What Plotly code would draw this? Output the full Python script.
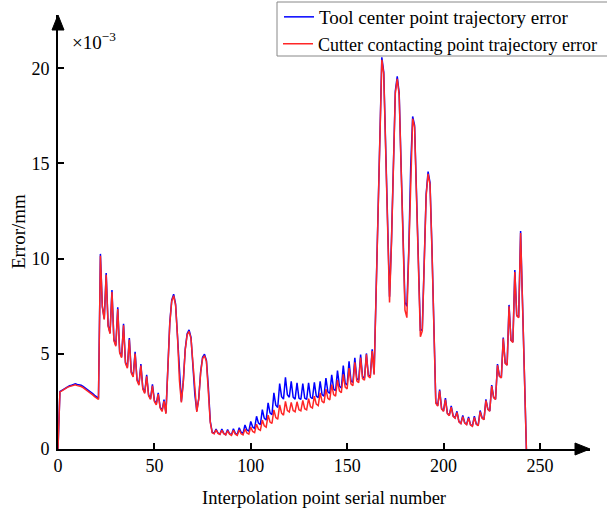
import plotly.graph_objects as go

# Interpolation point serial number
idx = list(range(244))

# Cutter contacting point trajectory error (x1e-3 mm)
cutter_err = [
    0.00, 3.00, 3.05, 3.10, 3.18, 3.25, 3.28, 3.30, 3.35, 3.37,
    3.33, 3.32, 3.28, 3.22, 3.15, 3.08, 3.00, 2.92, 2.84, 2.75,
    2.66, 2.60, 10.15, 7.45, 6.80, 9.15, 6.45, 6.05, 8.25, 5.70,
    5.40, 7.35, 5.05, 4.80, 6.50, 4.50, 4.25, 5.75, 4.00, 3.78,
    5.02, 3.60, 3.35, 4.38, 3.15, 2.92, 3.82, 2.80, 2.60, 3.32,
    2.50, 2.32, 2.88, 2.15, 1.97, 2.52, 1.85, 4.30, 6.60, 7.75,
    8.05, 7.55, 5.90, 3.60, 2.45, 3.50, 5.20, 6.00, 6.18, 5.80,
    4.40, 2.80, 1.95, 2.60, 4.00, 4.75, 4.90, 4.60, 3.20, 1.40,
    0.85, 0.80, 1.00, 0.82, 0.76, 0.98, 0.80, 0.74, 0.96, 0.78,
    0.72, 0.98, 0.78, 0.72, 1.00, 0.80, 0.74, 1.05, 0.84, 0.78,
    1.15, 0.92, 0.86, 1.30, 1.04, 0.98, 1.52, 1.22, 1.15, 1.78,
    1.42, 1.34, 2.05, 1.65, 1.56, 2.32, 1.88, 1.78, 2.50, 2.02,
    1.95, 2.45, 2.02, 1.96, 2.48, 2.06, 2.00, 2.55, 2.12, 2.06,
    2.65, 2.22, 2.15, 2.78, 2.36, 2.28, 2.95, 2.50, 2.42, 3.15,
    2.66, 2.58, 3.38, 2.86, 2.78, 3.62, 3.05, 2.96, 3.92, 3.25,
    3.15, 4.25, 3.42, 3.32, 4.55, 3.58, 3.48, 4.80, 3.70, 3.62,
    4.98, 3.82, 3.74, 5.15, 3.90, 8.00, 12.50, 17.50, 20.45, 19.70,
    15.80, 11.00, 7.70, 10.80, 15.60, 18.70, 19.45, 18.60, 14.80, 10.40,
    7.30, 6.90, 10.30, 14.80, 17.35, 16.90, 13.20, 9.00, 5.90, 6.20,
    9.80, 13.30, 14.45, 13.90, 10.50, 6.40, 2.40, 2.25, 3.05, 2.10,
    1.98, 2.60, 1.86, 1.75, 2.20, 1.72, 1.62, 1.92, 1.42, 1.33,
    1.70, 1.36, 1.28, 1.62, 1.26, 1.19, 1.66, 1.30, 1.22, 1.96,
    1.62, 1.54, 2.55, 2.08, 1.98, 3.30, 2.70, 2.60, 4.40, 3.82,
    3.73, 5.80, 4.50, 4.40, 7.50, 5.70, 5.60, 9.30, 7.00, 6.90,
    11.35, 7.60, 3.80, 0.00,
]

# Tool center point trajectory error (x1e-3 mm)
tool_err = [
    0.00, 3.02, 3.08, 3.14, 3.22, 3.29, 3.32, 3.35, 3.40, 3.42,
    3.39, 3.38, 3.35, 3.29, 3.22, 3.15, 3.07, 2.99, 2.91, 2.82,
    2.73, 2.66, 10.25, 7.50, 6.85, 9.25, 6.50, 6.10, 8.35, 5.75,
    5.45, 7.45, 5.10, 4.85, 6.58, 4.55, 4.30, 5.83, 4.05, 3.83,
    5.10, 3.65, 3.40, 4.46, 3.20, 2.97, 3.90, 2.85, 2.65, 3.40,
    2.55, 2.37, 2.95, 2.20, 2.02, 2.60, 1.90, 4.35, 6.65, 7.82,
    8.13, 7.62, 5.95, 3.65, 2.50, 3.55, 5.25, 6.06, 6.26, 5.86,
    4.45, 2.85, 2.00, 2.65, 4.05, 4.82, 4.98, 4.66, 3.25, 1.45,
    0.88, 0.82, 1.05, 0.84, 0.78, 1.05, 0.82, 0.76, 1.02, 0.80,
    0.75, 1.06, 0.82, 0.76, 1.12, 0.88, 0.82, 1.26, 1.00, 0.94,
    1.45, 1.15, 1.08, 1.72, 1.36, 1.28, 2.07, 1.62, 1.52, 2.42,
    1.90, 1.80, 2.95, 2.30, 2.18, 3.44, 2.75, 2.62, 3.77, 2.85,
    2.72, 3.56, 2.72, 2.62, 3.47, 2.68, 2.60, 3.44, 2.68, 2.60,
    3.47, 2.72, 2.64, 3.50, 2.78, 2.70, 3.56, 2.86, 2.78, 3.73,
    3.00, 2.92, 3.90, 3.15, 3.06, 4.12, 3.30, 3.20, 4.38, 3.45,
    3.36, 4.61, 3.58, 3.50, 4.79, 3.70, 3.62, 4.96, 3.80, 3.72,
    5.02, 3.88, 3.80, 5.24, 3.95, 8.05, 12.55, 17.60, 20.58, 19.80,
    15.90, 11.10, 8.00, 10.90, 15.70, 18.80, 19.58, 18.70, 14.90, 10.60,
    7.70, 7.50, 10.50, 14.90, 17.47, 17.00, 13.30, 9.20, 6.20, 6.30,
    9.90, 13.40, 14.57, 14.00, 10.60, 6.50, 2.45, 2.28, 3.12, 2.13,
    2.00, 2.67, 1.88, 1.77, 2.26, 1.74, 1.64, 1.98, 1.44, 1.35,
    1.76, 1.38, 1.30, 1.68, 1.28, 1.21, 1.72, 1.32, 1.24, 2.02,
    1.64, 1.56, 2.61, 2.10, 2.00, 3.36, 2.72, 2.62, 4.46, 3.84,
    3.75, 5.86, 4.52, 4.42, 7.57, 5.72, 5.62, 9.40, 7.02, 6.92,
    11.45, 7.65, 3.82, 0.00,
]

x_ticks = [0, 50, 100, 150, 200, 250]
y_ticks = [0, 5, 10, 15, 20]

FONT = "Liberation Serif, Times New Roman, serif"
TICK_FS = 18
TITLE_FS = 18.5

fig = go.Figure()
fig.add_trace(go.Scatter(
    x=idx, y=tool_err, mode="lines", name="Tool center point trajectory error",
    line=dict(color="#0000FF", width=1.5), legend="legend",
))
fig.add_trace(go.Scatter(
    x=idx, y=cutter_err, mode="lines", name="Cutter contacting point trajectory error",
    line=dict(color="#FF2626", width=1.5), legend="legend2",
))

axis_common = dict(
    showline=True, linecolor="black", linewidth=1.6,
    ticks="inside", ticklen=6, tickwidth=1.6, tickcolor="black",
    showgrid=False, zeroline=False,
    tickfont=dict(family=FONT, size=TICK_FS, color="black"),
)

fig.update_xaxes(range=[0, 276], tickvals=x_ticks, ticklabelstandoff=0, **axis_common)
fig.update_yaxes(range=[0, 22.8], tickvals=y_ticks, ticklabelstandoff=3, **axis_common)

dx = 15 / 532
dy = 6 / 434
dy2 = 15 / 434
dx2 = 6 / 532
fig.add_shape(type="path", xref="paper", yref="paper",
              path=f"M 1,0 L {1-dx},{dy} L {1-dx},{-dy} Z",
              fillcolor="black", line=dict(color="black", width=1))
fig.add_shape(type="path", xref="paper", yref="paper",
              path=f"M 0,1 L {-dx2},{1-dy2} L {dx2},{1-dy2} Z",
              fillcolor="black", line=dict(color="black", width=1))

# legend frame (one box around both legend entries)
fig.add_shape(type="rect", xref="paper", yref="paper",
              x0=(277 - 58) / 532, x1=(612 - 58) / 532,
              y0=(449 - 56) / 434, y1=(449 - 2) / 434,
              fillcolor="white", line=dict(color="#888888", width=1), layer="above")

fig.add_annotation(x=0.022, y=0.94, xref="paper", yref="paper",
                   text="×10<sup>−3</sup>", showarrow=False,
                   xanchor="left", yanchor="middle",
                   font=dict(family=FONT, size=19, color="black"))
fig.add_annotation(x=0.5, y=-0.113, xref="paper", yref="paper",
                   text="Interpolation point serial number", showarrow=False,
                   xanchor="center", yanchor="middle",
                   font=dict(family=FONT, size=TITLE_FS, color="black"))
fig.add_annotation(x=-0.075, y=0.5, xref="paper", yref="paper",
                   text="Error/mm", showarrow=False, textangle=-90,
                   xanchor="center", yanchor="middle",
                   font=dict(family=FONT, size=19, color="black"))

leg_common = dict(
    xanchor="left", yanchor="middle",
    bgcolor="rgba(0,0,0,0)", borderwidth=0,
)

fig.update_layout(
    width=607, height=510,
    margin=dict(l=58, r=17, t=15, b=61, autoexpand=False),
    paper_bgcolor="white", plot_bgcolor="white",
    showlegend=True,
    legend=dict(x=(279 - 58) / 532, y=(449 - 17) / 434,
                font=dict(family=FONT, size=19, color="black"), **leg_common),
    legend2=dict(x=(278 - 58) / 532, y=(449 - 44) / 434,
                 font=dict(family=FONT, size=18, color="black"), **leg_common),
)

fig.write_html("out.html")
